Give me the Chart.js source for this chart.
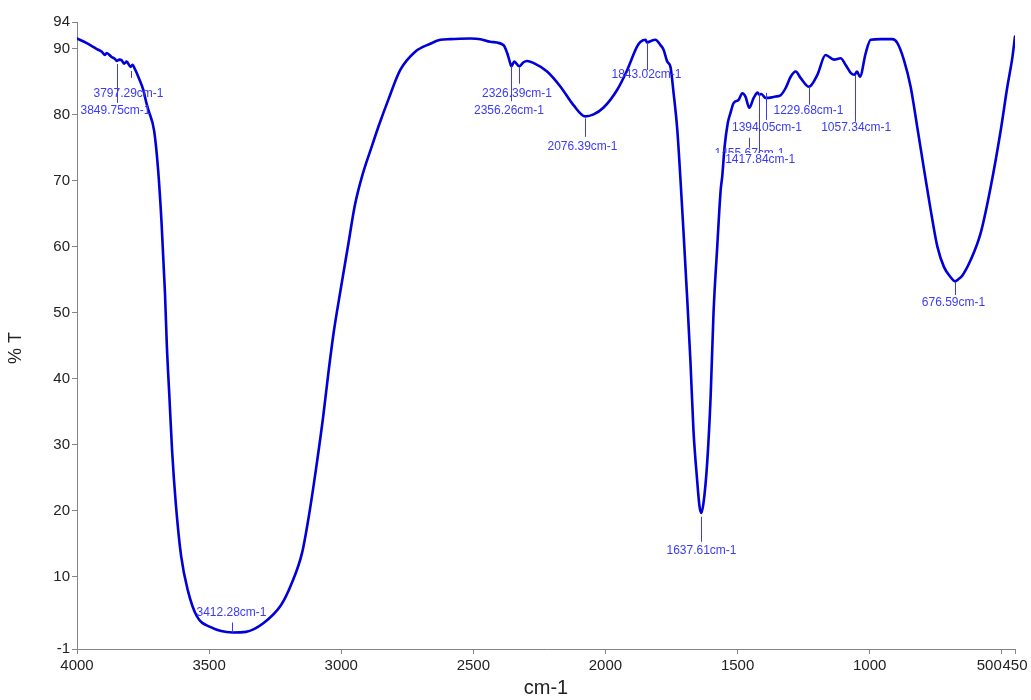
<!DOCTYPE html>
<html>
<head>
<meta charset="utf-8">
<script src="https://cdn.jsdelivr.net/npm/chart.js@4/dist/chart.umd.min.js"></script>
<style>
  html, body { margin: 0; padding: 0; background: #fff; }
  #wrap { width: 1031px; height: 700px; }
</style>
</head>
<body>
<div id="wrap"><canvas id="c"></canvas></div>
<script>
// FTIR spectrum: wavenumber (cm-1) vs transmittance (%T)
const wavenumbers = [4000, 3963, 3925, 3906, 3894, 3888, 3869, 3856, 3849.75, 3840, 3831, 3822, 3812, 3797.29, 3790, 3780, 3768, 3749, 3739, 3730, 3708, 3693, 3680, 3667, 3660, 3650, 3640, 3626, 3606, 3580, 3547, 3494, 3412.28, 3361, 3295, 3227, 3189, 3148, 3121, 3095, 3068, 3049, 3028, 3002, 2975, 2948, 2922, 2883, 2856, 2822, 2777, 2720, 2663, 2625, 2587, 2511, 2473, 2436, 2386, 2372, 2360, 2356.26, 2345, 2326.39, 2310, 2297, 2273, 2221, 2170, 2121, 2076.39, 2045, 2008, 1956, 1918, 1880, 1867, 1848, 1843.02, 1830, 1811, 1792, 1780, 1766, 1754, 1742, 1728, 1716, 1705, 1691, 1678, 1667, 1653, 1644, 1637.61, 1629, 1615, 1602, 1591, 1577, 1564, 1558, 1549, 1537, 1527, 1515, 1496, 1482, 1470, 1455.67, 1439, 1424, 1417.84, 1410, 1394.05, 1383, 1356, 1337, 1318, 1299, 1280, 1261, 1229.68, 1198, 1167, 1135, 1110, 1091, 1072, 1057.34, 1048, 1037, 1015, 996, 958, 914, 895, 870, 845, 820, 794, 769, 744, 719, 693, 676.59, 665, 649, 617, 580, 542, 504, 479, 460, 450];

const transmittance = [91.5, 90.8, 89.9, 89.5, 89.0, 89.3, 88.7, 88.4, 88.1, 88.3, 88.2, 87.7, 88.0, 87.2, 87.5, 86.8, 85.7, 83.7, 82.0, 80.7, 77.5, 71.6, 63.6, 52.9, 45.0, 37.0, 29.0, 21.0, 13.1, 7.8, 4.0, 2.3, 1.5, 1.6, 2.9, 5.7, 8.8, 13.6, 19.5, 26.4, 34.3, 40.7, 47.1, 53.5, 59.9, 66.3, 70.5, 75.3, 78.5, 82.2, 86.7, 89.5, 90.7, 91.3, 91.4, 91.5, 91.4, 91.0, 90.5, 89.3, 87.7, 87.3, 88.0, 87.3, 87.9, 88.1, 87.8, 86.5, 84.2, 81.4, 79.7, 80.0, 81.0, 83.7, 86.7, 90.3, 91.0, 91.3, 90.9, 91.1, 91.3, 90.5, 89.8, 88.0, 87.2, 83.2, 77.6, 70.1, 62.5, 52.4, 42.3, 32.2, 24.6, 20.6, 19.6, 21.1, 27.2, 37.2, 49.9, 59.9, 68.5, 70.6, 75.1, 78.7, 80.2, 81.7, 82.2, 83.2, 82.7, 81.0, 82.5, 83.3, 83.0, 83.1, 82.5, 82.5, 82.7, 82.9, 84.0, 85.7, 86.5, 85.5, 84.2, 86.0, 89.0, 88.3, 88.5, 87.5, 86.3, 86.0, 86.5, 85.7, 89.3, 91.3, 91.4, 91.4, 90.8, 88.2, 84.2, 78.1, 71.6, 65.5, 60.0, 56.9, 55.3, 54.7, 55.0, 55.6, 58.0, 62.0, 69.0, 77.6, 84.2, 88.6, 91.8];

const xTicks = [4000, 3500, 3000, 2500, 2000, 1500, 1000, 500, 450];
const yTicks = [-1, 10, 20, 30, 40, 50, 60, 70, 80, 90, 94];

// Picked peaks (cm-1)
const peakWavenumbers = [3849.75, 3797.29, 2356.26, 2326.39, 2076.39, 1843.02, 1637.61, 1455.67, 1417.84, 1394.05, 1229.68, 1057.34, 676.59, 3412.28];

// Label placement per peak: [text dx, text dy, leader start dy, leader end dy, optional clip dy]
const peakLabelLayout = [
  [-2, 50, 3, 42],
  [-3, 27, 4, 11],
  [-2.5, 44, 0, 35],
  [-2.5, 27, 1, 17.5],
  [-3, 30, 2, 20.5],
  [-1, 32.5, 0, 27.5],
  [0, 37.7, 3.7, 28.7],
  [0, 45.7, 30, 40, 45.2],
  [0.7, 65.4, -1.6, 58.4],
  [0.5, 30, -5, 22],
  [-1, 24, 0, 18],
  [0.7, 53, 0.2, 47],
  [-2, 21.3, 0.3, 13.6],
  [-1, -19.5, -10, 0]
];

const FONT = '"Liberation Sans", Arial, sans-serif';
const lineColor = 'rgb(0,0,215)';
const labelColor = '#3b3bf5';
const axisColor = '#858585';
const tickColor = '#222';

const points = wavenumbers.map((w, i) => ({ x: w, y: transmittance[i] }));

const peakLabels = {
  id: 'peakLabels',
  afterDatasetsDraw(chart) {
    const { ctx, scales: { x, y } } = chart;
    ctx.save();
    ctx.font = '12px ' + FONT;
    ctx.fillStyle = labelColor;
    ctx.strokeStyle = labelColor;
    ctx.lineWidth = 1;
    ctx.textAlign = 'center';
    ctx.textBaseline = 'middle';
    peakWavenumbers.forEach((wn, i) => {
      const t = transmittance[wavenumbers.indexOf(wn)];
      const px = Math.round(x.getPixelForValue(wn)) + 0.5;
      const py = y.getPixelForValue(t);
      const [dx, dy, l0, l1, clipDy] = peakLabelLayout[i];
      ctx.beginPath();
      ctx.moveTo(px, py + l0);
      ctx.lineTo(px, py + l1);
      ctx.stroke();
      ctx.save();
      if (clipDy !== undefined) {
        ctx.beginPath();
        ctx.rect(0, 0, chart.width, py + clipDy);
        ctx.clip();
      }
      ctx.fillText(wn.toFixed(2) + 'cm-1', px + dx, py + dy);
      ctx.restore();
    });
    ctx.restore();
  }
};

new Chart(document.getElementById('c'), {
  type: 'line',
  data: {
    datasets: [{
      data: points,
      borderColor: lineColor,
      borderWidth: 2.6,
      pointRadius: 0,
      fill: false,
      cubicInterpolationMode: 'monotone',
      borderJoinStyle: 'round',
      borderCapStyle: 'round'
    }]
  },
  options: {
    responsive: true,
    maintainAspectRatio: false,
    animation: false,
    events: [],
    layout: { padding: { top: 22, right: 16, left: 0, bottom: 0 } },
    plugins: { legend: { display: false }, tooltip: { enabled: false } },
    scales: {
      x: {
        type: 'linear',
        reverse: true,
        min: 450,
        max: 4000,
        afterBuildTicks(scale) { scale.ticks = xTicks.map(v => ({ value: v })); },
        afterFit(scale) { scale.height = 51; },
        ticks: {
          autoSkip: false,
          maxRotation: 0,
          padding: 3,
          color: tickColor,
          font: { family: FONT, size: 15 },
          callback: v => (v === 500 ? '500      ' : String(v))
        },
        grid: { drawOnChartArea: false, drawTicks: true, tickLength: 5, color: axisColor },
        border: { display: true, color: axisColor, width: 1 },
        title: {
          display: true,
          text: 'cm-1',
          color: tickColor,
          font: { family: FONT, size: 20 },
          padding: { top: 0, bottom: 0 }
        }
      },
      y: {
        type: 'linear',
        min: -1,
        max: 94,
        afterBuildTicks(scale) { scale.ticks = yTicks.map(v => ({ value: v })); },
        afterFit(scale) { scale.width = 77; },
        ticks: {
          autoSkip: false,
          padding: 2,
          color: tickColor,
          font: { family: FONT, size: 15 }
        },
        grid: { drawOnChartArea: false, drawTicks: true, tickLength: 5, color: axisColor },
        border: { display: true, color: axisColor, width: 1 },
        title: {
          display: true,
          text: '% T     ',
          color: tickColor,
          font: { family: FONT, size: 18 },
          padding: { top: 5, bottom: 0 }
        }
      }
    }
  },
  plugins: [peakLabels]
});
</script>
</body>
</html>
